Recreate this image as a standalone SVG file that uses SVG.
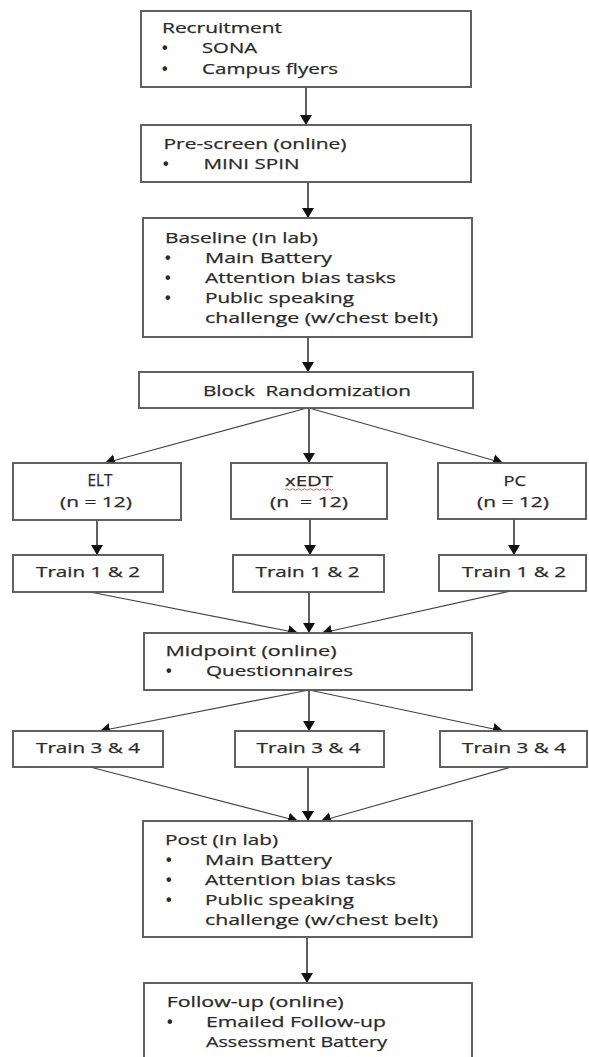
<svg xmlns="http://www.w3.org/2000/svg" width="589" height="1057" viewBox="0 0 589 1057">
<style>
.box{fill:#fff;stroke:#5a5a5a;stroke-width:1.9}
.t{font-family:"Open Sans","Liberation Sans",sans-serif;font-size:15px;fill:#2a2a2a;stroke:#2a2a2a;stroke-width:0.25}
.b{font-family:"Liberation Sans",sans-serif;font-size:16px;font-weight:bold;fill:#2a2a2a}
.c{stroke:#2a2a2a;stroke-width:1.5;fill:none;marker-end:url(#ah)}
.d{stroke:#444;stroke-width:1.2;fill:none;marker-end:url(#ah)}
</style>
<defs>
<marker id="ah" markerUnits="userSpaceOnUse" viewBox="0 0 10 12" refX="10" refY="6" markerWidth="10" markerHeight="13" orient="auto">
<path d="M0,0 L10,6 L0,12 z" fill="#111"/>
</marker>
</defs>
<rect width="589" height="1057" fill="#fff"/>
<g id="connectors">
<line class="c" x1="306" y1="87" x2="306" y2="125"/>
<line class="c" x1="308" y1="182" x2="308" y2="218"/>
<line class="c" x1="308" y1="337" x2="308" y2="372"/>
<line class="d" x1="307" y1="408" x2="105" y2="463"/>
<line class="c" x1="309" y1="408" x2="309" y2="463"/>
<line class="d" x1="309" y1="408" x2="503" y2="463"/>
<line class="c" x1="97" y1="520" x2="97" y2="555"/>
<line class="c" x1="310" y1="519" x2="310" y2="555"/>
<line class="c" x1="514" y1="519" x2="514" y2="555"/>
<line class="d" x1="90" y1="592" x2="298" y2="633"/>
<line class="c" x1="309" y1="592" x2="309" y2="633"/>
<line class="d" x1="511" y1="591" x2="322" y2="633"/>
<line class="d" x1="309" y1="690" x2="100" y2="731"/>
<line class="c" x1="309" y1="690" x2="309" y2="731"/>
<line class="d" x1="309" y1="690" x2="503" y2="731"/>
<line class="d" x1="90" y1="767" x2="298" y2="821"/>
<line class="c" x1="308" y1="767" x2="308" y2="821"/>
<line class="d" x1="511" y1="767" x2="321" y2="821"/>
<line class="c" x1="307" y1="937" x2="307" y2="983"/>
</g>
<g id="recruitment">
<rect class="box" x="141" y="11" width="330" height="76"/>
<text class="t" x="162" y="32.5" textLength="120" lengthAdjust="spacingAndGlyphs">Recruitment</text>
<text class="b" x="162" y="53">•</text>
<text class="t" x="202" y="53" textLength="55" lengthAdjust="spacingAndGlyphs">SONA</text>
<text class="b" x="162" y="73.5">•</text>
<text class="t" x="202" y="73.5" textLength="136" lengthAdjust="spacingAndGlyphs">Campus flyers</text>
</g>
<g id="prescreen">
<rect class="box" x="141" y="125" width="330" height="57"/>
<text class="t" x="163.5" y="149" textLength="183" lengthAdjust="spacingAndGlyphs">Pre-screen (online)</text>
<text class="b" x="163" y="168.5">•</text>
<text class="t" x="203.5" y="168.5" textLength="96" lengthAdjust="spacingAndGlyphs">MINI SPIN</text>
</g>
<g id="baseline">
<rect class="box" x="143" y="218" width="329" height="119"/>
<text class="t" x="165" y="243" textLength="153" lengthAdjust="spacingAndGlyphs">Baseline (In lab)</text>
<text class="b" x="165" y="263">•</text>
<text class="t" x="205" y="263" textLength="127" lengthAdjust="spacingAndGlyphs">Main Battery</text>
<text class="b" x="165" y="283">•</text>
<text class="t" x="205" y="283" textLength="191" lengthAdjust="spacingAndGlyphs">Attention bias tasks</text>
<text class="b" x="165" y="303">•</text>
<text class="t" x="205" y="303" textLength="149" lengthAdjust="spacingAndGlyphs">Public speaking</text>
<text class="t" x="205" y="323" textLength="233" lengthAdjust="spacingAndGlyphs">challenge (w/chest belt)</text>
</g>
<g id="block">
<rect class="box" x="139" y="372" width="334" height="36"/>
<text class="t" x="203" y="396" textLength="208" lengthAdjust="spacingAndGlyphs" xml:space="preserve">Block  Randomization</text>
</g>
<g id="elt">
<rect class="box" x="13" y="463" width="168" height="57"/>
<text class="t" x="87.5" y="486" textLength="25" lengthAdjust="spacingAndGlyphs" style="font-size:16px">ELT</text>
<text class="t" x="60" y="507" textLength="72" lengthAdjust="spacingAndGlyphs">(n = 12)</text>
</g>
<g id="xedt">
<rect class="box" x="231" y="463" width="156" height="56"/>
<text class="t" x="285" y="486" textLength="48" lengthAdjust="spacingAndGlyphs">xEDT</text>
<path d="M285,489.5 q1.5,-1.5 3,0 t3,0 t3,0 t3,0 t3,0 t3,0 t3,0 t3,0 t3,0 t3,0 t3,0 t3,0 t3,0 t3,0 t3,0 t3,0" fill="none" stroke="#e04a4a" stroke-width="0.9"/>
<text class="t" x="270" y="507" textLength="78" lengthAdjust="spacingAndGlyphs" xml:space="preserve">(n  = 12)</text>
</g>
<g id="pc">
<rect class="box" x="438" y="463" width="148" height="56"/>
<text class="t" x="503.5" y="486" textLength="22.5" lengthAdjust="spacingAndGlyphs">PC</text>
<text class="t" x="477" y="507" textLength="72" lengthAdjust="spacingAndGlyphs">(n = 12)</text>
</g>
<g id="train12a">
<rect class="box" x="13" y="555" width="150" height="37"/>
<text class="t" x="36" y="577" textLength="104" lengthAdjust="spacingAndGlyphs">Train 1 &amp; 2</text>
</g>
<g id="train12b">
<rect class="box" x="233" y="555" width="151" height="37"/>
<text class="t" x="255.5" y="577" textLength="104" lengthAdjust="spacingAndGlyphs">Train 1 &amp; 2</text>
</g>
<g id="train12c">
<rect class="box" x="439" y="555" width="147" height="36"/>
<text class="t" x="462" y="577" textLength="104" lengthAdjust="spacingAndGlyphs">Train 1 &amp; 2</text>
</g>
<g id="midpoint">
<rect class="box" x="144" y="633" width="328" height="57"/>
<text class="t" x="165.5" y="656" textLength="171" lengthAdjust="spacingAndGlyphs">Midpoint (online)</text>
<text class="b" x="166" y="676">•</text>
<text class="t" x="206" y="676" textLength="147" lengthAdjust="spacingAndGlyphs">Questionnaires</text>
</g>
<g id="train34a">
<rect class="box" x="13" y="731" width="150" height="36"/>
<text class="t" x="36" y="753" textLength="104" lengthAdjust="spacingAndGlyphs">Train 3 &amp; 4</text>
</g>
<g id="train34b">
<rect class="box" x="235" y="731" width="149" height="36"/>
<text class="t" x="256.6" y="753" textLength="104" lengthAdjust="spacingAndGlyphs">Train 3 &amp; 4</text>
</g>
<g id="train34c">
<rect class="box" x="440" y="731" width="147" height="36"/>
<text class="t" x="462" y="753" textLength="104" lengthAdjust="spacingAndGlyphs">Train 3 &amp; 4</text>
</g>
<g id="post">
<rect class="box" x="143" y="821" width="329" height="116"/>
<text class="t" x="165" y="844.5" textLength="113" lengthAdjust="spacingAndGlyphs">Post (In lab)</text>
<text class="b" x="166" y="864.5">•</text>
<text class="t" x="205" y="864.5" textLength="127" lengthAdjust="spacingAndGlyphs">Main Battery</text>
<text class="b" x="166" y="884.5">•</text>
<text class="t" x="205" y="884.5" textLength="191" lengthAdjust="spacingAndGlyphs">Attention bias tasks</text>
<text class="b" x="166" y="904.5">•</text>
<text class="t" x="205" y="904.5" textLength="149" lengthAdjust="spacingAndGlyphs">Public speaking</text>
<text class="t" x="205" y="924.5" textLength="233" lengthAdjust="spacingAndGlyphs">challenge (w/chest belt)</text>
</g>
<g id="followup">
<rect class="box" x="144" y="983" width="328" height="90"/>
<text class="t" x="166.7" y="1007" textLength="177" lengthAdjust="spacingAndGlyphs">Follow-up (online)</text>
<text class="b" x="167" y="1027">•</text>
<text class="t" x="206" y="1027" textLength="180" lengthAdjust="spacingAndGlyphs">Emailed Follow-up</text>
<text class="t" x="206" y="1047" textLength="181" lengthAdjust="spacingAndGlyphs">Assessment Battery</text>
</g>
</svg>
